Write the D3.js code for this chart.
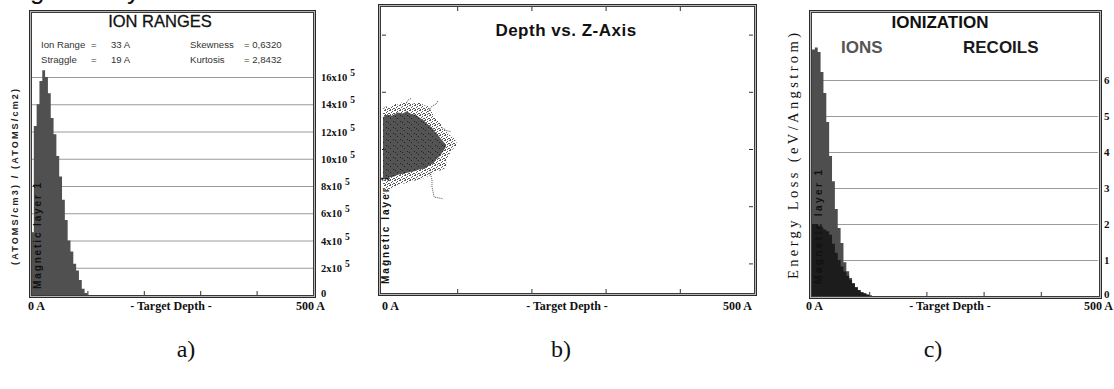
<!DOCTYPE html>
<html><head><meta charset="utf-8">
<script src="https://cdn.jsdelivr.net/npm/d3@7"></script>
<style>
html,body{margin:0;padding:0;background:#fff;}
svg{display:block;}
</style></head><body>
<svg id="fig" width="1114" height="389"></svg>
<script>
// ---- shared ----
const binWidth = 5;                       // Angstrom per histogram bin
const depthDomain = [0, 500];
const depthTicks = [100, 200, 300, 400];
const depthLabels = ["0 A", "- Target Depth -", "500 A"];
const panelCaptions = ["a)", "b)", "c)"];
const layerLabel = "Magnetic layer 1";

// ---- a) ion range distribution, in 10^5 (atoms/cm3)/(atoms/cm2) ----
const rangeValues = [4.6, 12.4, 14.0, 15.7, 16.5, 16.0, 14.8, 13.0, 11.8, 10.2,
                     8.7, 7.0, 5.5, 4.0, 3.2, 2.3, 1.8, 1.1, 0.45, 0.15];
const rangeTicks = [0, 2, 4, 6, 8, 10, 12, 14, 16];
const rangeTickLabels = ["0", "2x10", "4x10", "6x10", "8x10", "10x10", "12x10", "14x10", "16x10"];
const rangeExponent = "5";
const rangeStatNames = ["Ion Range", "Straggle"];
const rangeStatValues = ["33 A", "19 A"];
const momentNames = ["Skewness", "Kurtosis"];
const momentValues = ["= 0,6320", "= 2,8432"];
const rangeAxisTitle = "(ATOMS/cm3) / (ATOMS/cm2)";

// ---- b) depth vs lateral (Z) position, Angstrom ----
const zDomain = [-250, 250];
const zTicks = [-200, -100, 0, 100, 200];
const cloudFringe = [[0,68],[5,74],[9,72],[16,79],[22,77],[26,82],[34,82],[38,78],[42,80],
  [50,81],[56,76],[61,75],[64,68],[66,65],[70,56],[72,51],[78,44],[80,37],[86,30],[90,24],
  [95,20],[99,12],[100,5],[94,0],[93,-4],[88,-12],[86,-19],[85,-28],[84,-33],[78,-37],
  [72,-39],[66,-44],[60,-48],[55,-51],[47,-54],[40,-56],[34,-59],[23,-61],[16,-66],[12,-68],
  [6,-72],[4,-77],[0,-79]];
const cloudCore = [[0,56],[6,60],[12,58],[20,64],[27,62],[32,66],[38,61],[44,60],[50,54],
  [55,50],[58,46],[63,40],[66,37],[70,30],[74,25],[78,18],[82,12],[85,5],[82,-2],[80,-6],
  [76,-13],[72,-18],[68,-25],[62,-29],[56,-34],[49,-36],[42,-39],[34,-41],[28,-43],[20,-45],
  [15,-48],[8,-50],[0,-52]];
const strayTracks = [
  [[63,-37],[66,-54],[66,-66],[69,-84],[77,-86],[81,-87]],
  [[61,65],[66,75],[72,79],[74,84]],
  [[30,77],[34,86],[39,89]],
  [[80,37],[86,32],[92,30]],
  [[0,70],[3,74],[6,73]]
];

// ---- c) ionization energy loss, eV/Angstrom ----
const ionLoss = [6.85, 6.9, 6.78, 6.22, 5.64, 4.83, 3.89, 3.19, 2.42, 1.89,
                 1.47, 0.94, 0.69, 0.50, 0.36, 0.24, 0.17, 0.11, 0.08, 0.05, 0.02];
const recoilLoss = [2.0, 2.0, 1.95, 1.9, 1.85, 1.8, 1.7, 1.45, 1.2, 1.0,
                    0.82, 0.68, 0.56, 0.45, 0.34, 0.24, 0.16, 0.1, 0.06, 0.03, 0.0];
const lossTicks = [0, 1, 2, 3, 4, 5, 6];
const lossAxisTitle = "Energy Loss (eV/Angstrom)";
const ionizationTitle = "IONIZATION";
const seriesNames = ["IONS", "RECOILS"];

const svg = d3.select("#fig");
const SANS = "'Liberation Sans', Arial, sans-serif";
const SERIF = "'Liberation Serif', 'Times New Roman', serif";

function frame(x0, y0, x1, y1) {
  const g = svg.append("g");
  g.append("rect").attr("x", x0 + 1).attr("y", y0 + 1)
    .attr("width", x1 - x0 - 2).attr("height", y1 - y0 - 2)
    .attr("fill", "none").attr("stroke", "#b8b8b8").attr("stroke-width", 2);
  g.append("rect").attr("x", x0 + 0.5).attr("y", y0 + 0.5)
    .attr("width", x1 - x0 - 1).attr("height", y1 - y0 - 1)
    .attr("fill", "none").attr("stroke", "#2a2a2a");
  g.append("rect").attr("x", x0 + 2.5).attr("y", y0 + 2.5)
    .attr("width", x1 - x0 - 5).attr("height", y1 - y0 - 5)
    .attr("fill", "none").attr("stroke", "#3a3a3a");
}

function binPoints(values) {
  const pts = values.map((v, i) => [i * binWidth, v]);
  pts.push([values.length * binWidth, 0]);
  return pts;
}

function depthFooter(baseline, x0, xc, x1) {
  const t = svg.append("g").attr("font-family", SERIF).attr("font-weight", "bold")
    .attr("font-size", 12).attr("fill", "#111");
  t.append("text").attr("x", x0).attr("y", baseline).text(depthLabels[0]);
  t.append("text").attr("x", xc).attr("y", baseline).attr("text-anchor", "middle").text(depthLabels[1]);
  t.append("text").attr("x", x1).attr("y", baseline).attr("text-anchor", "end").text(depthLabels[2]);
}

function bottomTicks(x, yBase) {
  const ax = d3.axisBottom(x).tickValues(depthTicks).tickSize(-4).tickFormat("");
  const g = svg.append("g").attr("transform", `translate(0,${yBase})`).call(ax);
  g.select(".domain").remove();
  g.selectAll("line").attr("stroke", "#333");
}

function verticalText(x, yBottom, len, str, opts) {
  svg.append("text")
    .attr("transform", `translate(${x},${yBottom}) rotate(-90)`)
    .attr("font-family", opts.family).attr("font-weight", opts.weight || "normal")
    .attr("font-size", opts.size).attr("fill", opts.fill || "#111")
    .attr("textLength", len).attr("lengthAdjust", "spacing")
    .text(str);
}

// ================= a) ION RANGES =================
{
  const x = d3.scaleLinear().domain(depthDomain).range([31, 313]);
  const y = d3.scaleLinear().domain([0, 16]).range([295, 77]);

  const grid = d3.axisRight(y).tickValues(rangeTicks.slice(1)).tickSize(282).tickFormat("");
  const gg = svg.append("g").attr("transform", "translate(31,0)").call(grid);
  gg.select(".domain").remove();
  gg.selectAll("line").attr("stroke", "#9a9a9a");

  const area = d3.area().curve(d3.curveStepAfter)
    .x(d => x(d[0])).y0(y(0)).y1(d => y(d[1]));
  svg.append("path").datum(binPoints(rangeValues)).attr("d", area).attr("fill", "#505050");

  verticalText(41, 289, 106, layerLabel, {family: SANS, weight: "bold", size: 10, fill: "#111"});

  bottomTicks(x, 295);
  frame(29, 10, 316, 298);

  svg.append("text").attr("x", 160).attr("y", 27).attr("text-anchor", "middle")
    .attr("font-family", SANS).attr("font-size", 16.5).attr("fill", "#111")
    .attr("stroke", "#111").attr("stroke-width", 0.3).text("ION RANGES");

  const st = svg.append("g").attr("font-family", SANS).attr("font-size", 9.6).attr("fill", "#333");
  rangeStatNames.forEach((n, i) => {
    const by = 48 + i * 15;
    st.append("text").attr("x", 41).attr("y", by).text(n);
    st.append("text").attr("x", 91).attr("y", by).text("=");
    st.append("text").attr("x", 111).attr("y", by).text(rangeStatValues[i]);
    st.append("text").attr("x", 190).attr("y", by).text(momentNames[i]);
    st.append("text").attr("x", 244).attr("y", by).text(momentValues[i]);
  });

  const lab = svg.append("g").attr("font-family", SERIF).attr("font-weight", "bold")
    .attr("font-size", 10.5).attr("fill", "#111");
  rangeTicks.forEach((v, i) => {
    const t = lab.append("text").attr("x", 321).attr("y", y(v) + (v > 0 ? 4 : 2));
    t.append("tspan").text(rangeTickLabels[i]);
    if (v > 0) t.append("tspan").attr("dx", 3).attr("dy", -5).attr("font-size", 9.5).text(rangeExponent);
  });

  verticalText(18, 265, 176, rangeAxisTitle, {family: SANS, weight: "bold", size: 9, fill: "#222"});
  depthFooter(310, 28, 171, 325);
}

// ================= b) Depth vs. Z-Axis =================
{
  const x = d3.scaleLinear().domain(depthDomain).range([383, 754]);
  const y = d3.scaleLinear().domain(zDomain).range([292, 6]);

  verticalText(389, 284, 108, layerLabel, {family: SANS, weight: "bold", size: 10, fill: "#111"});

  const defs = svg.append("defs");
  const pat = defs.append("pattern").attr("id", "speckle").attr("patternUnits", "userSpaceOnUse")
    .attr("width", 5).attr("height", 5);
  [[0,0],[2,1],[4,0],[1,2],[3,3],[0,4],[4,3],[2,4]].forEach(p =>
    pat.append("rect").attr("x", p[0]).attr("y", p[1]).attr("width", 1).attr("height", 1).attr("fill", "#5a5a5a"));
  const pat2 = defs.append("pattern").attr("id", "dense").attr("patternUnits", "userSpaceOnUse")
    .attr("width", 7).attr("height", 6);
  pat2.append("rect").attr("width", 7).attr("height", 6).attr("fill", "#545454");
  [[1,1],[5,4],[3,2]].forEach(p =>
    pat2.append("rect").attr("x", p[0]).attr("y", p[1]).attr("width", 1).attr("height", 1).attr("fill", "#222"));

  const closed = d3.line().x(d => x(d[0])).y(d => y(d[1])).curve(d3.curveLinearClosed);
  svg.append("path").attr("d", closed(cloudFringe)).attr("fill", "url(#speckle)");
  svg.append("path").attr("d", closed(cloudCore)).attr("fill", "url(#dense)");
  const tl = d3.line().x(d => x(d[0])).y(d => y(d[1]));
  strayTracks.forEach(tr => svg.append("path").attr("d", tl(tr)).attr("fill", "none")
    .attr("stroke", "#555").attr("stroke-width", 1).attr("stroke-dasharray", "1,1"));

  // ticks on all four sides
  const tick = (axis, tr) => {
    const g = svg.append("g").attr("transform", tr).call(axis);
    g.select(".domain").remove();
    g.selectAll("line").attr("stroke", "#333");
  };
  tick(d3.axisBottom(x).tickValues(depthTicks).tickSize(-4).tickFormat(""), "translate(0,293)");
  tick(d3.axisTop(x).tickValues(depthTicks).tickSize(-4).tickFormat(""), "translate(0,7)");
  tick(d3.axisLeft(y).tickValues(zTicks).tickSize(-4).tickFormat(""), "translate(382,0)");
  tick(d3.axisRight(y).tickValues(zTicks).tickSize(-4).tickFormat(""), "translate(753,0)");

  frame(378, 4, 757, 296);

  svg.append("text").attr("x", 566).attr("y", 36).attr("text-anchor", "middle")
    .attr("font-family", SANS).attr("font-weight", "bold").attr("font-size", 17)
    .attr("letter-spacing", 0.5).attr("fill", "#111").text("Depth vs. Z-Axis");

  depthFooter(310, 382, 567, 752);
}

// ================= c) IONIZATION =================
{
  const x = d3.scaleLinear().domain(depthDomain).range([812, 1098]);
  const y = d3.scaleLinear().domain([0, 6]).range([296, 80]);

  const grid = d3.axisRight(y).tickValues(lossTicks.slice(1)).tickSize(286).tickFormat("");
  const gg = svg.append("g").attr("transform", "translate(812,0)").call(grid);
  gg.select(".domain").remove();
  gg.selectAll("line").attr("stroke", "#9a9a9a");

  const area = d3.area().curve(d3.curveStepAfter)
    .x(d => x(d[0])).y0(y(0)).y1(d => y(d[1]));
  svg.append("path").datum(binPoints(ionLoss)).attr("d", area).attr("fill", "#4e4e4e");
  svg.append("path").datum(binPoints(recoilLoss)).attr("d", area).attr("fill", "#1c1c1c");

  verticalText(822, 284, 114, layerLabel, {family: SANS, weight: "bold", size: 10, fill: "#111"});

  bottomTicks(x, 296);
  frame(809, 10, 1102, 299);

  svg.append("text").attr("x", 940).attr("y", 28).attr("text-anchor", "middle")
    .attr("font-family", SANS).attr("font-weight", "bold").attr("font-size", 17)
    .attr("fill", "#111").text(ionizationTitle);
  svg.append("text").attr("x", 841).attr("y", 53)
    .attr("font-family", SANS).attr("font-weight", "bold").attr("font-size", 17)
    .attr("fill", "#555").text(seriesNames[0]);
  svg.append("text").attr("x", 963).attr("y", 53)
    .attr("font-family", SANS).attr("font-weight", "bold").attr("font-size", 17)
    .attr("fill", "#1a1a1a").text(seriesNames[1]);

  const lab = svg.append("g").attr("font-family", SERIF).attr("font-weight", "bold")
    .attr("font-size", 11).attr("fill", "#111");
  lossTicks.forEach(v => lab.append("text").attr("x", 1104).attr("y", y(v) + (v > 0 ? 4 : 2)).text(v));

  verticalText(798, 279, 246, lossAxisTitle, {family: SERIF, size: 14.5, fill: "#111"});
  depthFooter(310, 806, 950, 1113);
}

// ---- caption fragment running off the top edge ----
svg.append("text").attr("x", -6).attr("y", -1)
  .attr("font-family", SANS).attr("font-size", 26).attr("fill", "#111").text("Magnetic layer");

// ---- panel captions ----
const capX = [186, 561, 933];
panelCaptions.forEach((c, i) => svg.append("text").attr("x", capX[i]).attr("y", 357)
  .attr("text-anchor", "middle").attr("font-family", SERIF).attr("font-size", 24)
  .attr("fill", "#111").text(c));
</script>
</body></html>
